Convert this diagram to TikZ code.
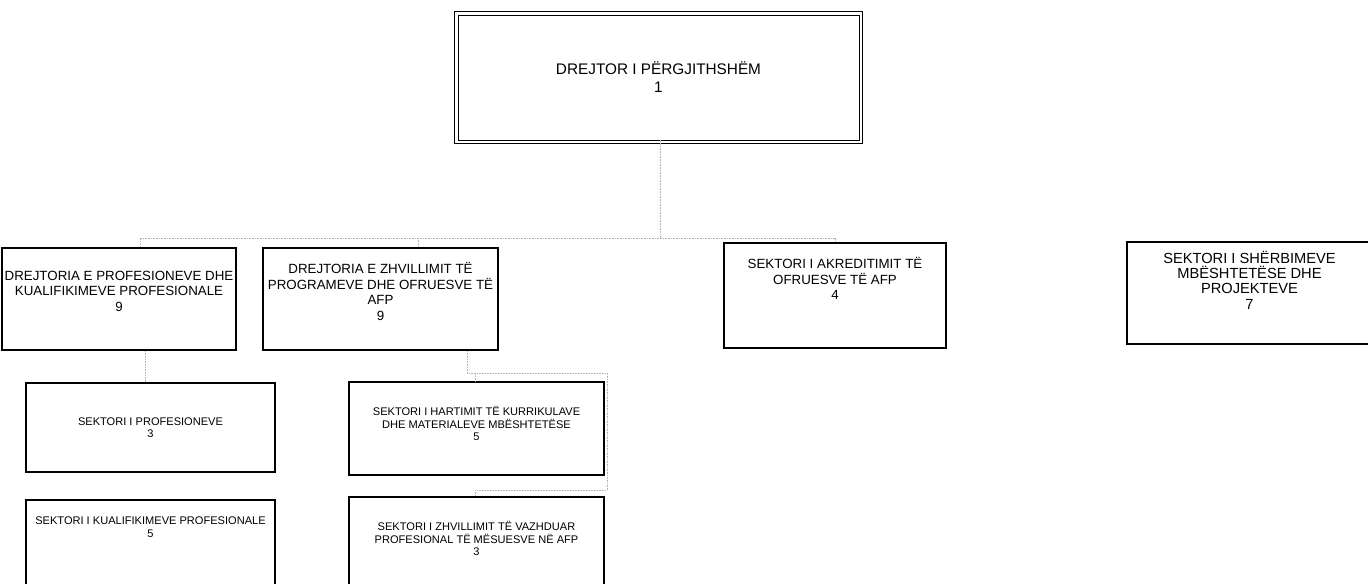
\documentclass[tikz,border=0pt]{standalone}
\usepackage{fontspec}
\setmainfont{Liberation Sans}

\tikzstyle{unit} = [draw, line width=0.9pt, rectangle, inner sep=2pt, align=center]
\tikzstyle{chief} = [unit, line width=0.7pt, font=\fontsize{11.5}{13.5}\selectfont]
\tikzstyle{dept} = [unit, font=\fontsize{10}{11.6}\selectfont]
\tikzstyle{sector} = [unit, line width=0.8pt, font=\fontsize{8.3}{9.4}\selectfont]
\tikzstyle{link} = [gray!60, line width=0.5pt, dash pattern=on 1.2pt off 0.8pt]

\begin{document}
\begin{tikzpicture}[x=0.75pt, y=-0.75pt]
	\useasboundingbox (0,0) rectangle (1368,583);

	\node[chief, minimum width=300.75pt, minimum height=93.75pt] (dir) at (658.5,77.5) {DREJTOR I PËRGJITHSHËM\\1};
	\draw[line width=0.7pt] ([shift={(-2.4pt,2.4pt)}]dir.north west) rectangle ([shift={(2.4pt,-2.4pt)}]dir.south east);

	\node[dept, minimum width=168pt, minimum height=76.5pt] (prof) at (119,299) {DREJTORIA E PROFESIONEVE DHE\\KUALIFIKIMEVE PROFESIONALE\\9\\\mbox{}};
	\node[dept, minimum width=176.25pt, minimum height=76.5pt] (prog) at (380.5,299) {DREJTORIA E ZHVILLIMIT TË\\PROGRAMEVE DHE OFRUESVE TË\\AFP\\9\\\mbox{}};
	\node[dept, minimum width=166.5pt, minimum height=78.75pt] (akr) at (835,295.5) {SEKTORI I AKREDITIMIT TË\\OFRUESVE TË AFP\\4\\[14pt]\mbox{}};
	\node[dept, font=\fontsize{11}{11.4}\selectfont, minimum width=183.75pt, minimum height=76.5pt] (sherb) at (1249.5,293) {SEKTORI I SHËRBIMEVE\\MBËSHTETËSE DHE\\PROJEKTEVE\\7\\[8pt]\mbox{}};

	\node[sector, minimum width=186.75pt, minimum height=66.75pt] (sprof) at (150.5,427.5) {SEKTORI I PROFESIONEVE\\3};
	\node[sector, minimum width=186.75pt, minimum height=66.75pt] (skual) at (150.5,544.5) {SEKTORI I KUALIFIKIMEVE PROFESIONALE\\5\\[17pt]\mbox{}};
	\node[sector, minimum width=191.25pt, minimum height=69.75pt] (shart) at (476.5,428.5) {SEKTORI I HARTIMIT TË KURRIKULAVE\\DHE MATERIALEVE MBËSHTETËSE\\5\\[-2pt]\mbox{}};
	\node[sector, minimum width=191.25pt, minimum height=69.75pt] (szhv) at (476.5,543.5) {SEKTORI I ZHVILLIMIT TË VAZHDUAR\\PROFESIONAL TË MËSUESVE NË AFP\\3\\[-2pt]\mbox{}};

	% connectors
	\coordinate (bus) at (660,238);
	\coordinate (busl) at (140,238);
	\coordinate (busr) at (835,238);
	\coordinate (elbA) at (467,373);
	\coordinate (elbB) at (607,373);
	\coordinate (elbC) at (607,490);
	\coordinate (elbD) at (475,490);

	\draw[link] (dir.south -| bus) -- (bus);
	\draw[link] (busl) -- (busr);
	\draw[link] (busl) -- (busl |- prof.north);
	\draw[link] (prog.north -| 418,0) -- (418,238);
	\draw[link] (busr) -- (akr.north);

	\draw[link] (prof.south -| 145,0) -- (sprof.north -| 145,0);

	\draw[link] (prog.south -| elbA) -- (elbA) -- (elbB) -- (elbC) -- (elbD) -- (szhv.north -| elbD);
	\draw[link] (475,373) -- (shart.north -| elbD);
\end{tikzpicture}
\end{document}
